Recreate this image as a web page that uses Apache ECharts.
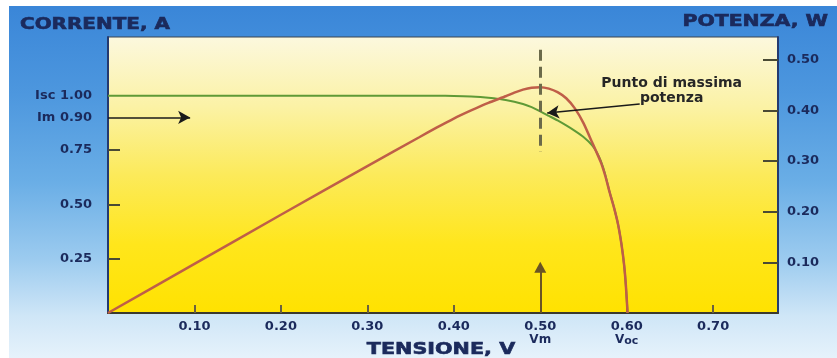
<!DOCTYPE html>
<html><head><meta charset="utf-8">
<script src="https://cdn.jsdelivr.net/npm/echarts@6/dist/echarts.min.js"></script>
<style>
html,body{margin:0;padding:0;background:#fff}
#c{width:837px;height:358px;
  background:linear-gradient(to bottom,#3a86d8 0%,#4d97de 25%,#6aaee6 50%,#9ccbef 72%,#cfe6f7 88%,#e6f2fb 100%) no-repeat;
  background-position:9px 6px;background-size:828px 352px;}
</style>
</head><body><div id="c"></div>
<script>
// Voltage (V) vs current (A) - I-V curve, left axis
const ivCurve = [[0,1.0],[0.38,1.0],[0.40,0.999],[0.42,0.996],[0.44,0.99],[0.46,0.98],[0.48,0.962],[0.49,0.947],[0.50,0.928],[0.51,0.907],[0.52,0.886],[0.53,0.863],[0.54,0.838],[0.55,0.81],[0.56,0.772],[0.565,0.742],[0.57,0.70],[0.575,0.64],[0.58,0.56],[0.585,0.49],[0.59,0.408],[0.594,0.315],[0.597,0.22],[0.599,0.128],[0.601,0.0]];
// Voltage (V) vs power (W) - P-V curve, right axis
const pvCurve = [[0,0],[0.10,0.097],[0.20,0.194],[0.30,0.29],[0.36,0.347],[0.38,0.366],[0.40,0.384],[0.42,0.40],[0.44,0.415],[0.46,0.428],[0.47,0.435],[0.48,0.441],[0.49,0.445],[0.50,0.446],[0.51,0.443],[0.52,0.436],[0.53,0.424],[0.54,0.404],[0.55,0.375],[0.56,0.337],[0.57,0.298],[0.575,0.272],[0.58,0.24],[0.585,0.21],[0.59,0.175],[0.594,0.135],[0.597,0.095],[0.599,0.055],[0.601,0.0]];
const xTickValues = [0.1,0.2,0.3,0.4,0.5,0.6,0.7];
const xTickLabels = ['0.10','0.20','0.30','0.40','{a|0.50}\n{b|Vm}','{a|0.60}\n{b|V}{s|oc}','0.70'];
const currentTickValues = [0.25,0.5,0.75];
const currentLabelValues = [0.25,0.5,0.75,0.9,1.0];
const currentTickLabels = ['0.25','0.50','0.75','Im 0.90','Isc 1.00'];
const powerTickValues = [0.1,0.2,0.3,0.4,0.5];
const powerTickLabels = ['0.10','0.20','0.30','0.40','0.50'];
const Vm = 0.5, Im = 0.9;
const dashTop = 0.52, dashBottom = 0.318;        // W, dashed marker at Vm
const vmArrowTop = 0.21;                         // A
const imArrowEnd = 0.095;                        // V
const mppArrow = [[0.615,0.962],[0.508,0.92]];   // V, A
const mppLabelPos = [0.652,0.439];               // V, W
const annotation = 'Punto di massima\npotenza';

const navy = '#1b2a5c';
const tickFont = {color: navy, fontWeight:'bold', fontSize:13, fontFamily:'DejaVu Sans'};
function lookup(vals, labels){ return v => { for (let i=0;i<vals.length;i++) if (Math.abs(vals[i]-v)<1e-6) return labels[i]; return ''; }; }

const chart = echarts.init(document.getElementById('c'), null, {renderer:'canvas'});
chart.setOption({
  animation:false,
  backgroundColor:'transparent',
  grid:{left:108,right:59,top:37,bottom:45,show:true,borderColor:'#3a4450',borderWidth:1,
    backgroundColor:{type:'linear',x:0,y:0,x2:0,y2:1,colorStops:[
      {offset:0,color:'#fcf8de'},{offset:0.25,color:'#fbf2a6'},{offset:0.5,color:'#fcea5a'},{offset:0.75,color:'#ffe61c'},{offset:1,color:'#ffe200'}]}},
  xAxis:{type:'value',min:0,max:0.775,
    axisLine:{show:true,lineStyle:{color:'#3b3a2c',width:2}},
    axisTick:{show:true,inside:true,length:8,customValues:xTickValues,lineStyle:{color:'#6a6040',width:2}},
    axisLabel:{customValues:xTickValues,formatter:lookup(xTickValues,xTickLabels),margin:7,...tickFont,lineHeight:13,
      rich:{a:{...tickFont,lineHeight:13},b:{color:navy,fontWeight:'bold',fontFamily:'DejaVu Sans',fontSize:12,lineHeight:13},
            s:{color:navy,fontWeight:'bold',fontFamily:'DejaVu Sans',fontSize:11,lineHeight:13,padding:[3,0,0,0]}}},
    splitLine:{show:false}},
  yAxis:[
    {type:'value',min:0,max:1.27,position:'left',
      axisLine:{show:true,lineStyle:{color:'#243a70',width:2}},
      axisTick:{show:true,inside:true,length:12,customValues:currentTickValues,lineStyle:{color:'#4a4a34',width:2}},
      axisLabel:{customValues:currentLabelValues,formatter:lookup(currentLabelValues,currentTickLabels),margin:16,...tickFont},
      splitLine:{show:false}},
    {type:'value',min:0,max:0.545,position:'right',
      axisLine:{show:true,lineStyle:{color:'#243a70',width:2}},
      axisTick:{show:true,inside:true,length:15,customValues:powerTickValues,lineStyle:{color:'#4a4a34',width:2}},
      axisLabel:{customValues:powerTickValues,formatter:lookup(powerTickValues,powerTickLabels),margin:9,...tickFont},
      splitLine:{show:false}}
  ],
  series:[
    {type:'line',name:'Corrente',yAxisIndex:0,data:ivCurve,showSymbol:false,smooth:0.2,
      lineStyle:{color:'#5f9a36',width:2},z:2,
      markLine:{silent:true,symbol:['none','arrow'],symbolSize:[10,12],label:{show:false},
        data:[
          [{coord:[0,Im],lineStyle:{color:'#1a1a1a',width:1.5,type:'solid'}},{coord:[imArrowEnd,Im]}],
          [{coord:[Vm,0],lineStyle:{color:'#6a5424',width:2,type:'solid'}},{coord:[Vm,vmArrowTop],symbol:'triangle',symbolSize:[12,11]}],
          [{coord:mppArrow[0],lineStyle:{color:'#1a1a1a',width:1.5,type:'solid'}},{coord:mppArrow[1]}]
        ]}},
    {type:'line',name:'Potenza',yAxisIndex:1,data:pvCurve,showSymbol:false,smooth:0.2,
      lineStyle:{color:'#bf5e48',width:2.5},z:3,
      markLine:{silent:true,symbol:['none','none'],label:{show:false},
        data:[[{coord:[Vm,dashTop],lineStyle:{color:'#6b6a4a',width:3,type:[11,6]}},{coord:[Vm,dashBottom]}]]},
      markPoint:{silent:true,symbol:'circle',symbolSize:0,
        data:[{coord:mppLabelPos,label:{show:true,position:'inside',formatter:annotation,
          color:'#262626',fontWeight:'bold',fontSize:14,fontFamily:'DejaVu Sans',lineHeight:15,align:'center'}}]}}
  ],
  graphic:[
    {type:'text',x:20,y:25,scaleX:1.33,style:{text:'CORRENTE, A',font:'bold 15px "DejaVu Sans"',fill:navy,stroke:navy,lineWidth:0.6,align:'left',textAlign:'left',verticalAlign:'middle',textVerticalAlign:'middle'}},
    {type:'text',x:828,y:22,scaleX:1.36,style:{text:'POTENZA, W',font:'bold 15px "DejaVu Sans"',fill:navy,stroke:navy,lineWidth:0.6,align:'right',textAlign:'right',verticalAlign:'middle',textVerticalAlign:'middle'}},
    {type:'text',x:441,y:350,scaleX:1.38,style:{text:'TENSIONE, V',font:'bold 15px "DejaVu Sans"',fill:navy,stroke:navy,lineWidth:0.6,align:'center',textAlign:'center',verticalAlign:'middle',textVerticalAlign:'middle'}}
  ]
});
</script></body></html>
